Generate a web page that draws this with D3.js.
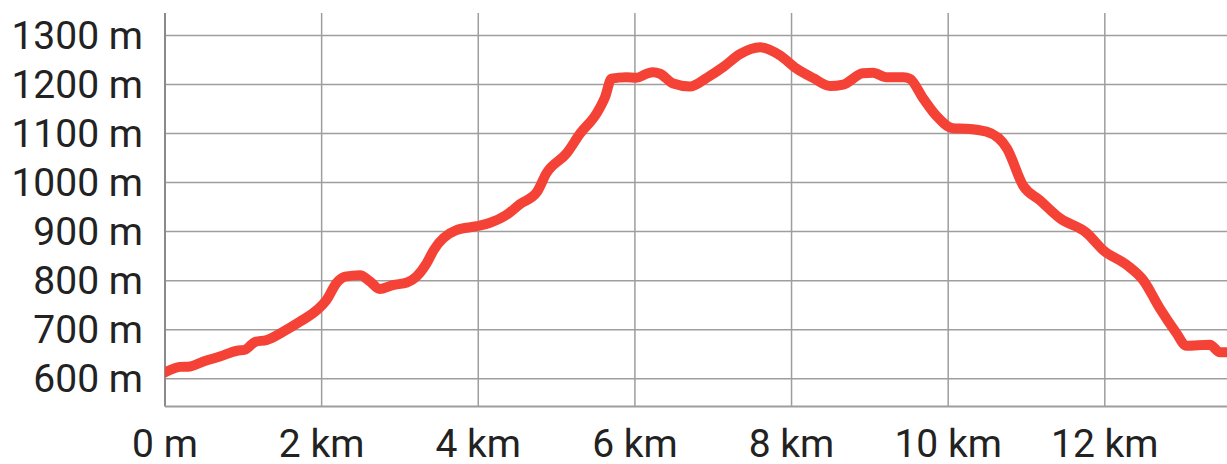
<!DOCTYPE html>
<html>
<head>
<meta charset="utf-8">
<script src="https://cdn.jsdelivr.net/npm/d3@7"></script>
<style>
  html, body { margin: 0; padding: 0; background: #fff; }
  svg { display: block; }
  text { font-family: Roboto, "Noto Sans", sans-serif; fill: #222; }
</style>
</head>
<body>
<svg id="chart" width="1227" height="464"></svg>
<script>
// Distance along route (km)
const distanceKm = [0, 0.19, 0.32, 0.49, 0.70, 0.92, 1.02, 1.15, 1.30, 1.51, 1.72, 1.94, 2.06, 2.19, 2.30, 2.49,
  2.62, 2.74, 2.91, 3.09, 3.21, 3.34, 3.43, 3.72, 3.98, 4.15, 4.36, 4.53, 4.75, 4.87, 5.13, 5.30, 5.51, 5.62,
  5.70, 5.89, 6.02, 6.15, 6.23, 6.32, 6.49, 6.70, 6.92, 7.13, 7.34, 7.60, 7.85, 8.06, 8.28, 8.49, 8.66, 8.91,
  9.04, 9.21, 9.43, 9.51, 9.68, 9.85, 10.06, 10.23, 10.49, 10.75, 10.96, 11.17, 11.43, 11.77, 11.98, 12.28,
  12.49, 12.70, 12.91, 13.04, 13.34, 13.47, 13.60];
// Elevation (m)
const elevationM = [613, 624, 625, 635, 645, 657, 659, 675, 679, 696, 716, 740, 760, 795, 808, 811,
  798, 783, 791, 796, 808, 835, 862, 903, 911, 918, 934, 956, 981, 1019, 1060, 1100, 1141, 1175,
  1212, 1215, 1214, 1222, 1225, 1222, 1202, 1196, 1214, 1236, 1262, 1276, 1260, 1233, 1213, 1197, 1200, 1223,
  1224, 1215, 1215, 1212, 1172, 1136, 1111, 1110, 1104, 1070, 993, 964, 927, 897, 862, 832,
  801, 744, 694, 667, 669, 654, 654];

const xTickValues = [0, 2, 4, 6, 8, 10, 12];
const xTickLabels = ["0 m", "2 km", "4 km", "6 km", "8 km", "10 km", "12 km"];
const yTickValues = [600, 700, 800, 900, 1000, 1100, 1200, 1300];
const yTickLabels = ["600 m", "700 m", "800 m", "900 m", "1000 m", "1100 m", "1200 m", "1300 m"];

const svg = d3.select("#chart");
const plotLeft = 165, plotRight = 1227, plotTop = 13, plotBottom = 406.5;

const x = d3.scaleLinear().domain([0, 13.56]).range([plotLeft, plotRight]);
const y = d3.scaleLinear().domain([543.2, 1346]).range([plotBottom, plotTop]);

// grid
const grid = svg.append("g");
grid.selectAll("line.h").data(yTickValues).enter().append("line")
  .attr("x1", plotLeft).attr("x2", plotRight)
  .attr("y1", d => y(d)).attr("y2", d => y(d))
  .attr("stroke", "#9e9e9e").attr("stroke-width", 1.5);
grid.selectAll("line.v").data(xTickValues.slice(1)).enter().append("line")
  .attr("x1", d => x(d)).attr("x2", d => x(d))
  .attr("y1", plotTop).attr("y2", plotBottom)
  .attr("stroke", "#9e9e9e").attr("stroke-width", 1.5);

// axes lines
svg.append("line").attr("x1", plotLeft).attr("x2", plotLeft).attr("y1", plotTop).attr("y2", plotBottom)
  .attr("stroke", "#8a8a8a").attr("stroke-width", 2);
svg.append("line").attr("x1", plotLeft).attr("x2", plotRight).attr("y1", plotBottom).attr("y2", plotBottom)
  .attr("stroke", "#9e9e9e").attr("stroke-width", 2);

// y labels
svg.append("g").selectAll("text").data(yTickValues).enter().append("text")
  .attr("x", 143).attr("y", d => y(d))
  .attr("text-anchor", "end").attr("dominant-baseline", "central")
  .attr("font-size", 39)
  .text((d, i) => yTickLabels[i]);

// x labels
svg.append("g").selectAll("text").data(xTickValues).enter().append("text")
  .attr("x", d => x(d)).attr("y", 457)
  .attr("text-anchor", "middle")
  .attr("font-size", 39)
  .text((d, i) => xTickLabels[i]);

// clip
svg.append("clipPath").attr("id", "clip").append("rect")
  .attr("x", plotLeft).attr("y", 0).attr("width", plotRight - plotLeft).attr("height", 464);

const pts = distanceKm.map((d, i) => [d, elevationM[i]]);
const line = d3.line().x(d => x(d[0])).y(d => y(d[1])).curve(d3.curveMonotoneX);
svg.append("path").datum(pts)
  .attr("clip-path", "url(#clip)")
  .attr("d", line)
  .attr("fill", "none")
  .attr("stroke", "#f44336")
  .attr("stroke-width", 10)
  .attr("stroke-linejoin", "round")
  .attr("stroke-linecap", "round");
</script>
</body>
</html>
